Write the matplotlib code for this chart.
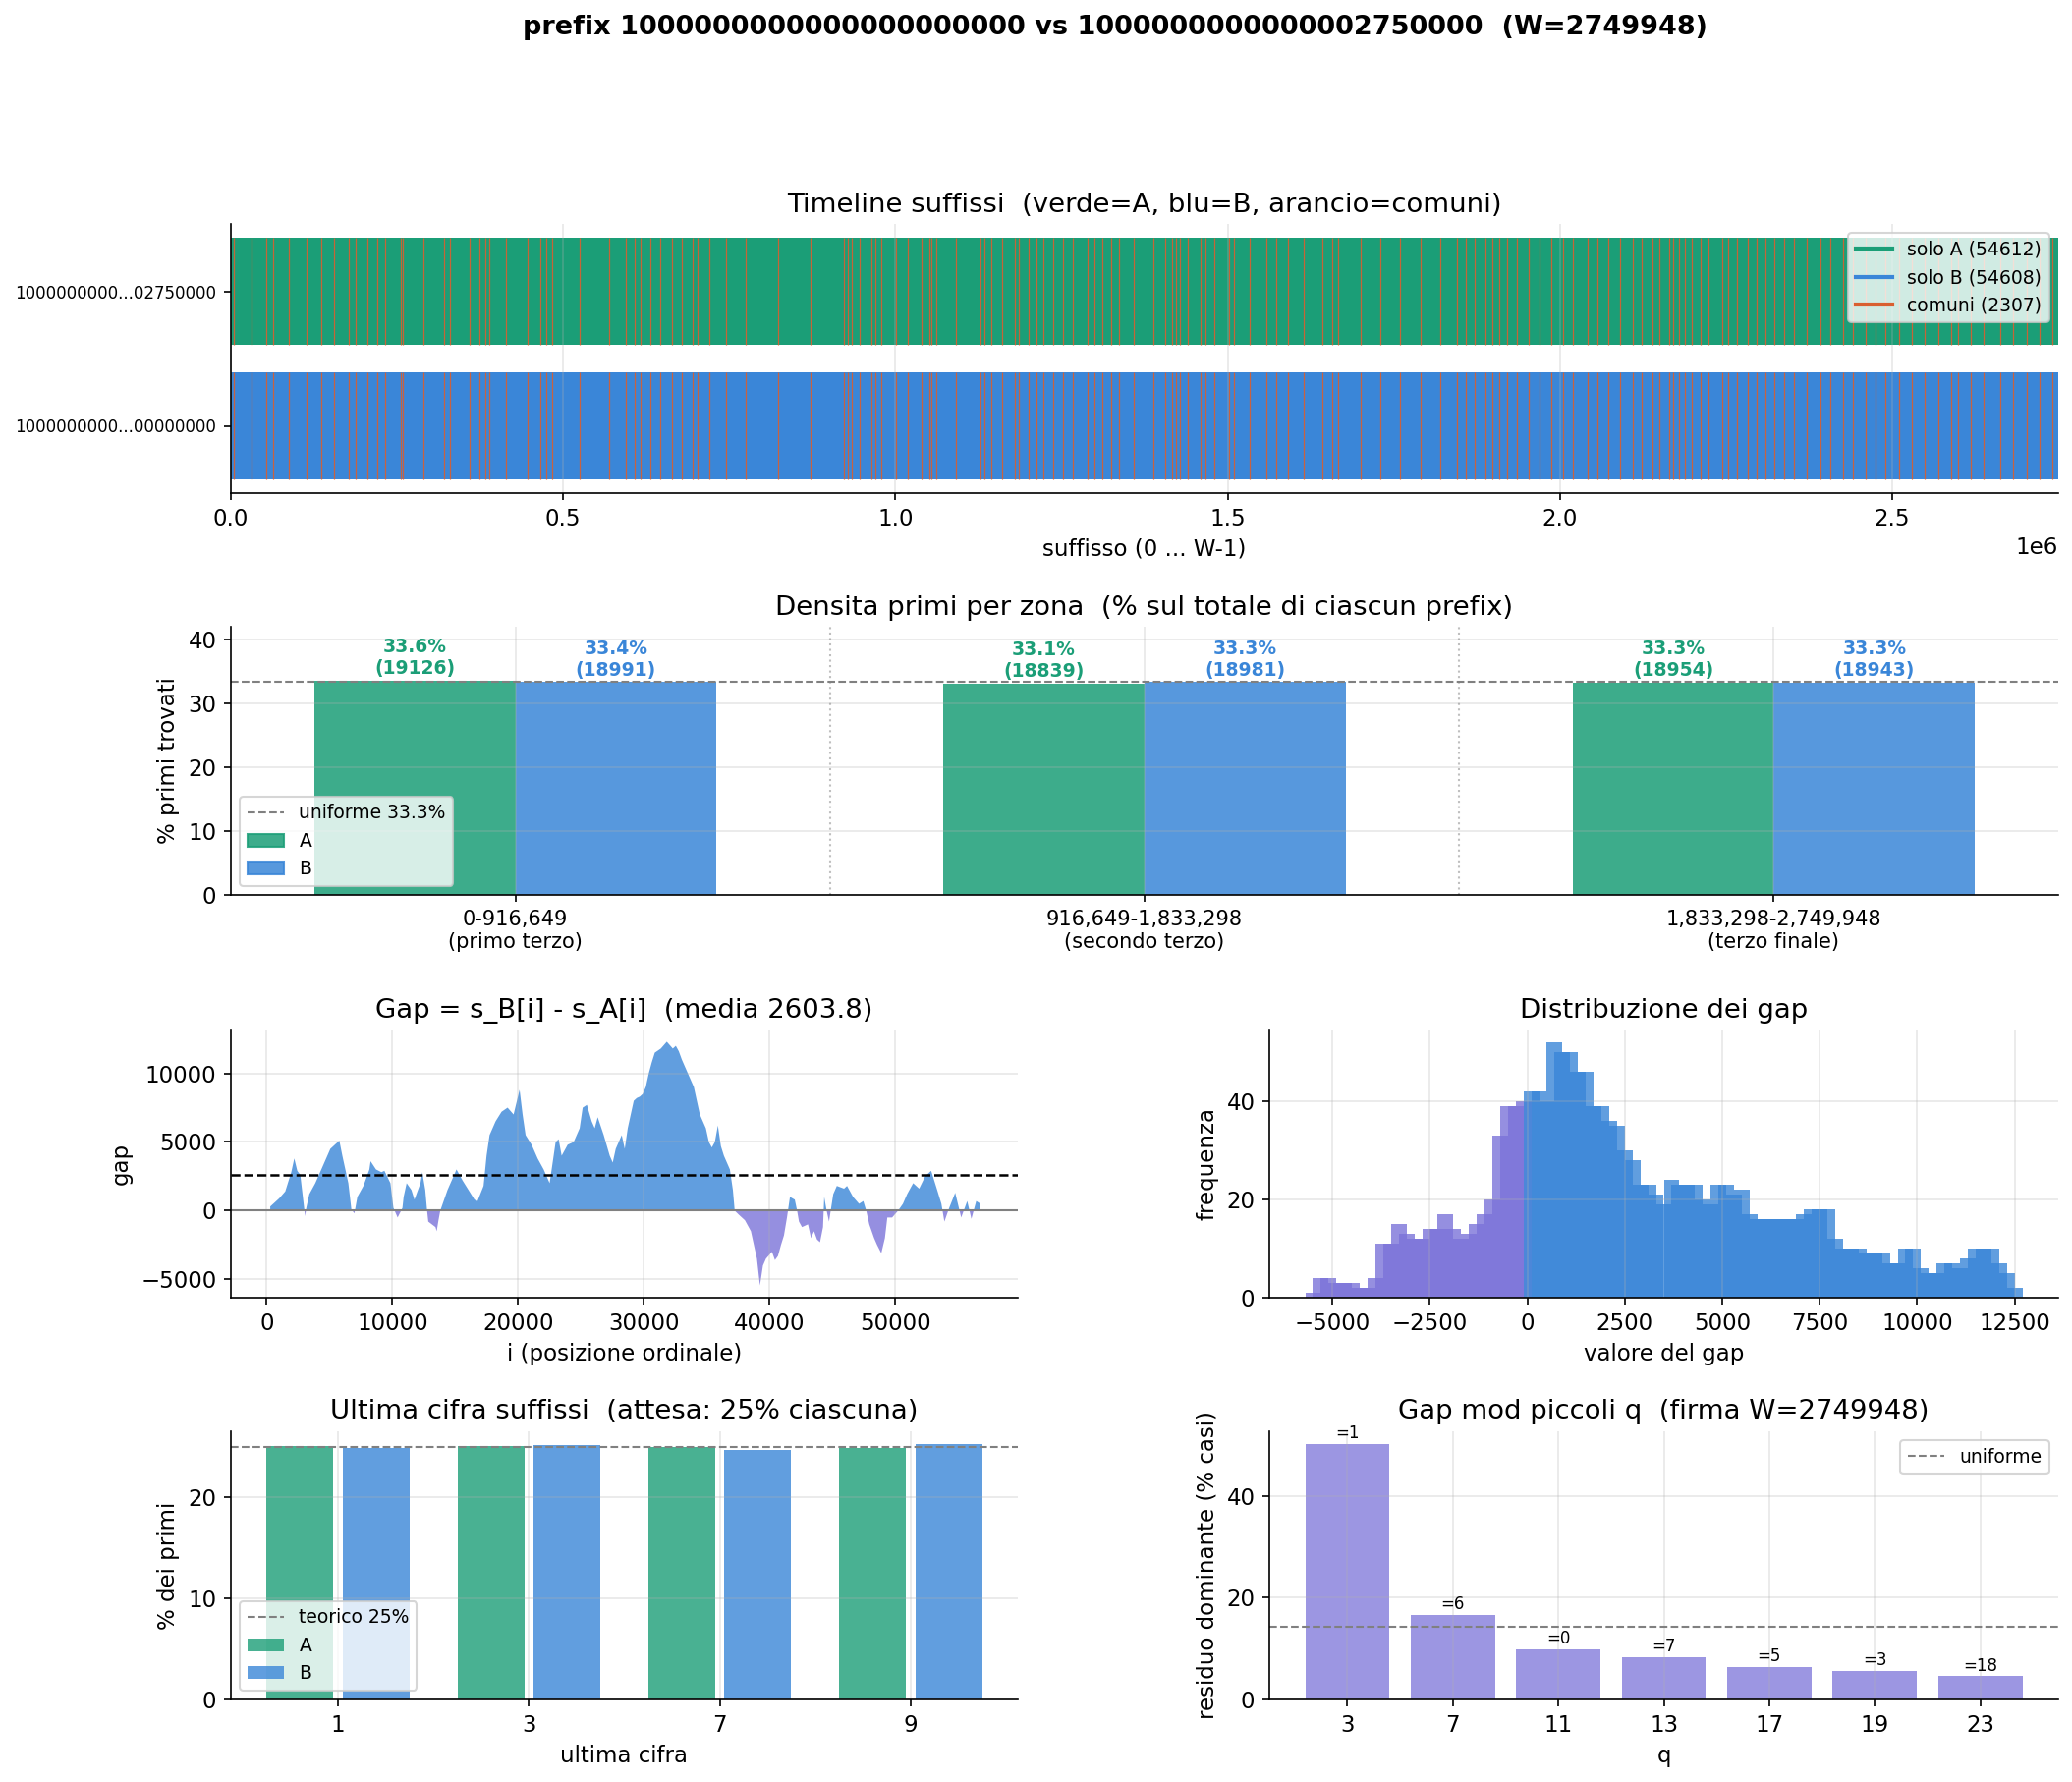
import numpy as np
import matplotlib.pyplot as plt
from matplotlib.lines import Line2D
from matplotlib.patches import Patch

plt.rcParams["font.size"] = 11

# parametri del confronto
W = 2749948
prefix_a = "1000000000000000000000"
prefix_b = "1000000000000002750000"
n_solo_a, n_solo_b, n_comuni = 54612, 54608, 2307

C_A = "#1b9e77"
C_B = "#3a86d8"
C_COM = "#d95f30"
C_NEG = "#7b73d9"

# posizioni (migliaia) dei suffissi comuni visibili nella timeline
comuni_k = [4.9, 30.6, 52.8, 64.1, 87.3, 113.4, 135.6, 155.3, 177.5, 187.4, 206.1,
            220.4, 231.8, 255.4, 258.9, 289.5, 320.5, 330.4, 359.9, 374.7, 383.6,
            389.5, 414.2, 447.2, 466.0, 474.9, 483.3, 525.1, 569.5, 594.2, 607.5,
            616.4, 631.2, 646.0, 663.2, 678.0, 695.3, 702.7, 719.9, 744.5, 774.0,
            823.5, 872.8, 922.1, 928.0, 934.4, 946.7, 964.0, 970.4, 978.8, 1001.0,
            1018.2, 1038.9, 1051.3, 1054.3, 1061.1, 1090.7, 1128.2, 1134.1, 1143.9,
            1161.2, 1179.4, 1185.9, 1200.7, 1213.0, 1222.9, 1237.7, 1252.5, 1267.3,
            1289.5, 1299.3, 1311.6, 1325.4, 1336.3, 1358.4, 1388.0, 1405.3, 1416.1,
            1422.6, 1428.5, 1439.8, 1459.6, 1467.0, 1479.3, 1501.5, 1508.9, 1533.6,
            1558.2, 1573.0, 1590.2, 1614.9, 1642.0, 1656.8, 1666.7, 1700.0, 1730.0,
            1760.0, 1790.0, 1820.0, 1845.0, 1859.0, 1871.3, 1888.5, 1898.4, 1908.3,
            1920.6, 1935.4, 1952.7, 1969.9, 1987.2, 2004.4, 2019.2, 2041.4, 2056.2,
            2073.5, 2090.7, 2110.5, 2122.8, 2140.0, 2149.9, 2164.7, 2170.0, 2179.4,
            2188.0, 2199.2, 2211.5, 2223.8, 2243.6, 2253.5, 2265.8, 2283.0, 2295.4,
            2310.1, 2322.5, 2337.3, 2352.0, 2371.8, 2391.6, 2406.4, 2426.0, 2440.8,
            2460.6, 2475.3, 2490.1, 2509.9, 2529.6, 2549.3, 2569.1, 2588.8, 2598.7,
            2618.3, 2638.0, 2662.7, 2682.4, 2702.2, 2721.9, 2741.6]

# densita per zona
zone_labels = ["0-916,649\n(primo terzo)", "916,649-1,833,298\n(secondo terzo)",
               "1,833,298-2,749,948\n(terzo finale)"]
zone_a = [19126, 18839, 18954]
zone_b = [18991, 18981, 18943]

# gap s_B[i] - s_A[i] (campioni letti)
n_gap = 56915
gap_media = 2603.8
gap_i = [287, 1004, 1482, 1960, 2199, 2437, 2677, 3059, 3155, 3394, 3870, 4350, 5067,
         5784, 6023, 6500, 6740, 6979, 7218, 7700, 8174, 8269, 8700, 9130, 9369, 9847,
         10086, 10420, 10803, 10898, 11137, 11520, 11759, 12237, 12380, 12619, 12763,
         12858, 13432, 13527, 13671, 13814, 14005, 14388, 14866, 15105, 15583, 16061,
         16539, 16778, 17256, 17495, 17734, 18212, 18690, 19168, 19646, 20124, 20363,
         20602, 21080, 21558, 22036, 22275, 22514, 22753, 22992, 23231, 23470, 23948,
         24426, 24904, 25143, 25477, 25860, 26099, 26338, 26816, 27294, 27533, 27772,
         28250, 28489, 28728, 28967, 29206, 29445, 29684, 29923, 30162, 30401, 30640,
         30879, 31357, 31835, 32313, 32552, 32791, 33030, 33269, 33508, 33747, 33986,
         34225, 34464, 34703, 34942, 35181, 35420, 35659, 35898, 36137, 36376, 36615,
         36854, 37093, 37236, 37571, 38049, 38527, 38766, 39005, 39244, 39483, 39722,
         40200, 40439, 40678, 40917, 41156, 41395, 41634, 42016, 42200, 42351, 42590,
         43068, 43307, 43546, 43785, 44024, 44263, 44358, 44550, 44741, 45076, 45362,
         45936, 46175, 46653, 47131, 47465, 47700, 47943, 48326, 48565, 48899, 49186,
         49377, 49760, 50238, 50620, 50955, 51433, 51911, 52389, 52867, 53345, 53679,
         53918, 54301, 54779, 55257, 55735, 56069, 56452, 56786]
gap_v = [300, 900, 1400, 2800, 3800, 2900, 2600, -400, 200, 1200, 2000, 3000, 4500,
         5100, 4000, 2000, 100, -200, 1000, 1800, 3000, 3600, 3000, 2800, 2900, 2000,
         200, -500, 200, 1000, 2000, 1500, 800, 2000, 2800, 1500, 0,
         -800, -1200, -1500, -700, 0, 500, 1500, 2500, 3000, 2200, 1500,
         800, 700, 1800, 4000, 5500, 6500, 7200, 7500, 7000, 8800, 7000,
         5500, 4800, 3800, 3000, 2500, 2000, 3500, 5000, 5200, 4000, 4800,
         5000, 6000, 7500, 7700, 6500, 6000, 6800, 5500, 4000, 3500, 4500,
         5500, 4500, 6000, 7000, 8000, 8200, 8300, 8500, 9000, 10000, 10800,
         11500, 11800, 12300, 11800, 12000, 11600, 11000, 10500, 10000, 9500, 9000,
         8000, 7000, 6500, 6000, 5000, 4600, 5000, 6200, 4700, 4000, 3500,
         3000, 1500, 0, -300, -700, -1500, -2500, -3500, -5450, -4000, -3500,
         -3000, -3600, -3300, -2500, -1800, -500, 1000, 800, 0, -800, -1200,
         -1000, -2000, -1500, -2100, -2300, -1200, 1000, 0, -800, 1200, 1800,
         1600, 1800, 1000, 500, 700, 0, -1000, -2000, -2500, -3100, -2000,
         -500, -500, 0, 500, 1200, 2000, 1600, 2500, 2900, 1500, 500,
         -800, 200, 1300, -500, 700, -600, 700, 500]

# istogramma dei gap (centri dei bin, passo 200)
hist_centri = list(range(-5500, 12501, 200))
hist_freq = [1, 4, 4, 3, 3, 3, 2, 2, 4, 11, 11, 15, 13, 12, 12, 14, 14, 17, 14, 12,
             13, 15, 17, 20, 33, 39, 39, 40, 42, 42, 40, 52, 50, 50, 46, 46, 39, 39,
             36, 35, 30, 28, 23, 23, 21, 19, 24, 23, 23, 23, 20, 19, 23, 23, 21, 22,
             17, 16, 16, 16, 16, 16, 16, 17, 18, 18, 18, 12, 10, 10, 10, 9, 9, 9, 7,
             7, 10, 10, 6, 5, 5, 7, 7, 6, 8, 10, 10, 10, 7, 5, 2]

# ultima cifra
cifre = ["1", "3", "7", "9"]
cifra_a = [25.05, 25.08, 25.00, 24.87]
cifra_b = [24.85, 25.18, 24.70, 25.27]

# gap mod q
q_vals = [3, 7, 11, 13, 17, 19, 23]
q_pct = [50.2, 16.6, 9.9, 8.3, 6.4, 5.6, 4.6]
q_res = [1, 6, 0, 7, 5, 3, 18]
uniforme_q = 14.3

fig = plt.figure(figsize=(2109 / 150, 1814 / 150), dpi=150)
fig.suptitle(f"prefix {prefix_a} vs {prefix_b}  (W={W})", fontsize=13,
             fontweight="bold", x=0.538, y=0.992)


def new_ax(l, b, r, t):
    ax = fig.add_axes([l / 2109, 1 - b / 1814, (r - l) / 2109, (b - t) / 1814])
    ax.spines["top"].set_visible(False)
    ax.spines["right"].set_visible(False)
    return ax


# 1) timeline
ax = new_ax(235, 502, 2095, 228)
ax.barh(1, W, height=0.8, color=C_A)
ax.barh(0, W, height=0.8, color=C_B)
com = np.array(comuni_k) * 1000
ax.vlines(com, 0.6, 1.4, color=C_COM, lw=0.6, alpha=0.9)
ax.vlines(com, -0.4, 0.4, color=C_COM, lw=0.6, alpha=0.9)
ax.set_xlim(0, W)
ax.set_ylim(-0.5, 1.5)
ax.set_yticks([0, 1])
ax.set_yticklabels([prefix_a[:10] + "..." + prefix_a[-8:],
                    prefix_b[:10] + "..." + prefix_b[-8:]], fontsize=8)
ax.grid(axis="x", alpha=0.3)
ax.set_xlabel("suffisso (0 ... W-1)")
ax.set_title("Timeline suffissi  (verde=A, blu=B, arancio=comuni)")
handles = [Line2D([], [], color=C_A, lw=2, label=f"solo A ({n_solo_a})"),
           Line2D([], [], color=C_B, lw=2, label=f"solo B ({n_solo_b})"),
           Line2D([], [], color=C_COM, lw=2, label=f"comuni ({n_comuni})")]
ax.legend(handles=handles, loc="upper right", fontsize=9)

# 2) densita per zona
ax = new_ax(235, 911, 2095, 638)
x = np.arange(3)
pa = np.array(zone_a) / sum(zone_a) * 100
pb = np.array(zone_b) / sum(zone_b) * 100
ax.bar(x - 0.16, pa, 0.32, color=C_A, alpha=0.85)
ax.bar(x + 0.16, pb, 0.32, color=C_B, alpha=0.85)
for xi, p, n in zip(x, pa, zone_a):
    ax.text(xi - 0.16, p + 0.4, f"{p:.1f}%\n({n})", ha="center", va="bottom",
            fontsize=9, fontweight="bold", color=C_A)
for xi, p, n in zip(x, pb, zone_b):
    ax.text(xi + 0.16, p + 0.4, f"{p:.1f}%\n({n})", ha="center", va="bottom",
            fontsize=9, fontweight="bold", color=C_B)
ax.axhline(100 / 3, color="gray", ls="--", lw=1)
for s in [0.5, 1.5]:
    ax.axvline(s, color="gray", ls=":", lw=1, alpha=0.5)
ax.set_xticks(x)
ax.set_xticklabels(zone_labels, fontsize=10)
ax.set_ylim(0, 42)
ax.set_ylabel("% primi trovati")
ax.set_title("Densita primi per zona  (% sul totale di ciascun prefix)")
ax.grid(alpha=0.3)
ax.legend(handles=[Line2D([], [], color="gray", ls="--", lw=1, label="uniforme 33.3%"),
                   Patch(color=C_A, alpha=0.85, label="A"),
                   Patch(color=C_B, alpha=0.85, label="B")],
          loc="lower left", fontsize=9)

# 3) serie dei gap
ax = new_ax(235, 1321, 1036, 1048)
gi = np.array(gap_i)
gv = np.array(gap_v)
ax.fill_between(gi, gv, 0, where=gv >= 0, interpolate=True, color=C_B, alpha=0.8, lw=0)
ax.fill_between(gi, gv, 0, where=gv < 0, interpolate=True, color=C_NEG, alpha=0.8, lw=0)
ax.axhline(0, color="gray", lw=1)
ax.axhline(gap_media, color="k", ls="--", lw=1.2)
ax.set_xlim(-0.05 * n_gap, 1.05 * n_gap)
ax.grid(alpha=0.3)
ax.set_xlabel("i (posizione ordinale)")
ax.set_ylabel("gap")
ax.set_title(f"Gap = s_B[i] - s_A[i]  (media {gap_media})")

# 4) distribuzione dei gap
ax = new_ax(1292, 1321, 2095, 1048)
hc = np.array(hist_centri)
cols = [C_NEG if c < 0 else C_B for c in hc]
ax.bar(hc, hist_freq, width=400, color=cols, alpha=0.8, lw=0)
ax.grid(alpha=0.3)
ax.set_xlabel("valore del gap")
ax.set_ylabel("frequenza")
ax.set_title("Distribuzione dei gap")

# 5) ultima cifra
ax = new_ax(235, 1730, 1036, 1457)
x = np.arange(4)
ax.axhline(25, color="gray", ls="--", lw=1, label="teorico 25%")
ax.bar(x - 0.2, cifra_a, 0.35, color=C_A, alpha=0.8, label="A")
ax.bar(x + 0.2, cifra_b, 0.35, color=C_B, alpha=0.8, label="B")
ax.set_xticks(x)
ax.set_xticklabels(cifre)
ax.grid(alpha=0.3)
ax.set_xlabel("ultima cifra")
ax.set_ylabel("% dei primi")
ax.set_title("Ultima cifra suffissi  (attesa: 25% ciascuna)")
ax.legend(loc="lower left", fontsize=9)

# 6) gap mod q
ax = new_ax(1292, 1730, 2095, 1457)
x = np.arange(len(q_vals))
ax.bar(x, q_pct, 0.8, color=C_NEG, alpha=0.75)
for xi, p, r in zip(x, q_pct, q_res):
    ax.text(xi, p + 0.3, f"={r}", ha="center", va="bottom", fontsize=8)
ax.axhline(uniforme_q, color="gray", ls="--", lw=1, label="uniforme")
ax.set_xticks(x)
ax.set_xticklabels([str(q) for q in q_vals])
ax.grid(alpha=0.3)
ax.set_xlabel("q")
ax.set_ylabel("residuo dominante (% casi)")
ax.set_title("Gap mod piccoli q  (firma W=2749948)")
ax.legend(loc="upper right", fontsize=9)

fig.savefig("out.png", dpi=150)
